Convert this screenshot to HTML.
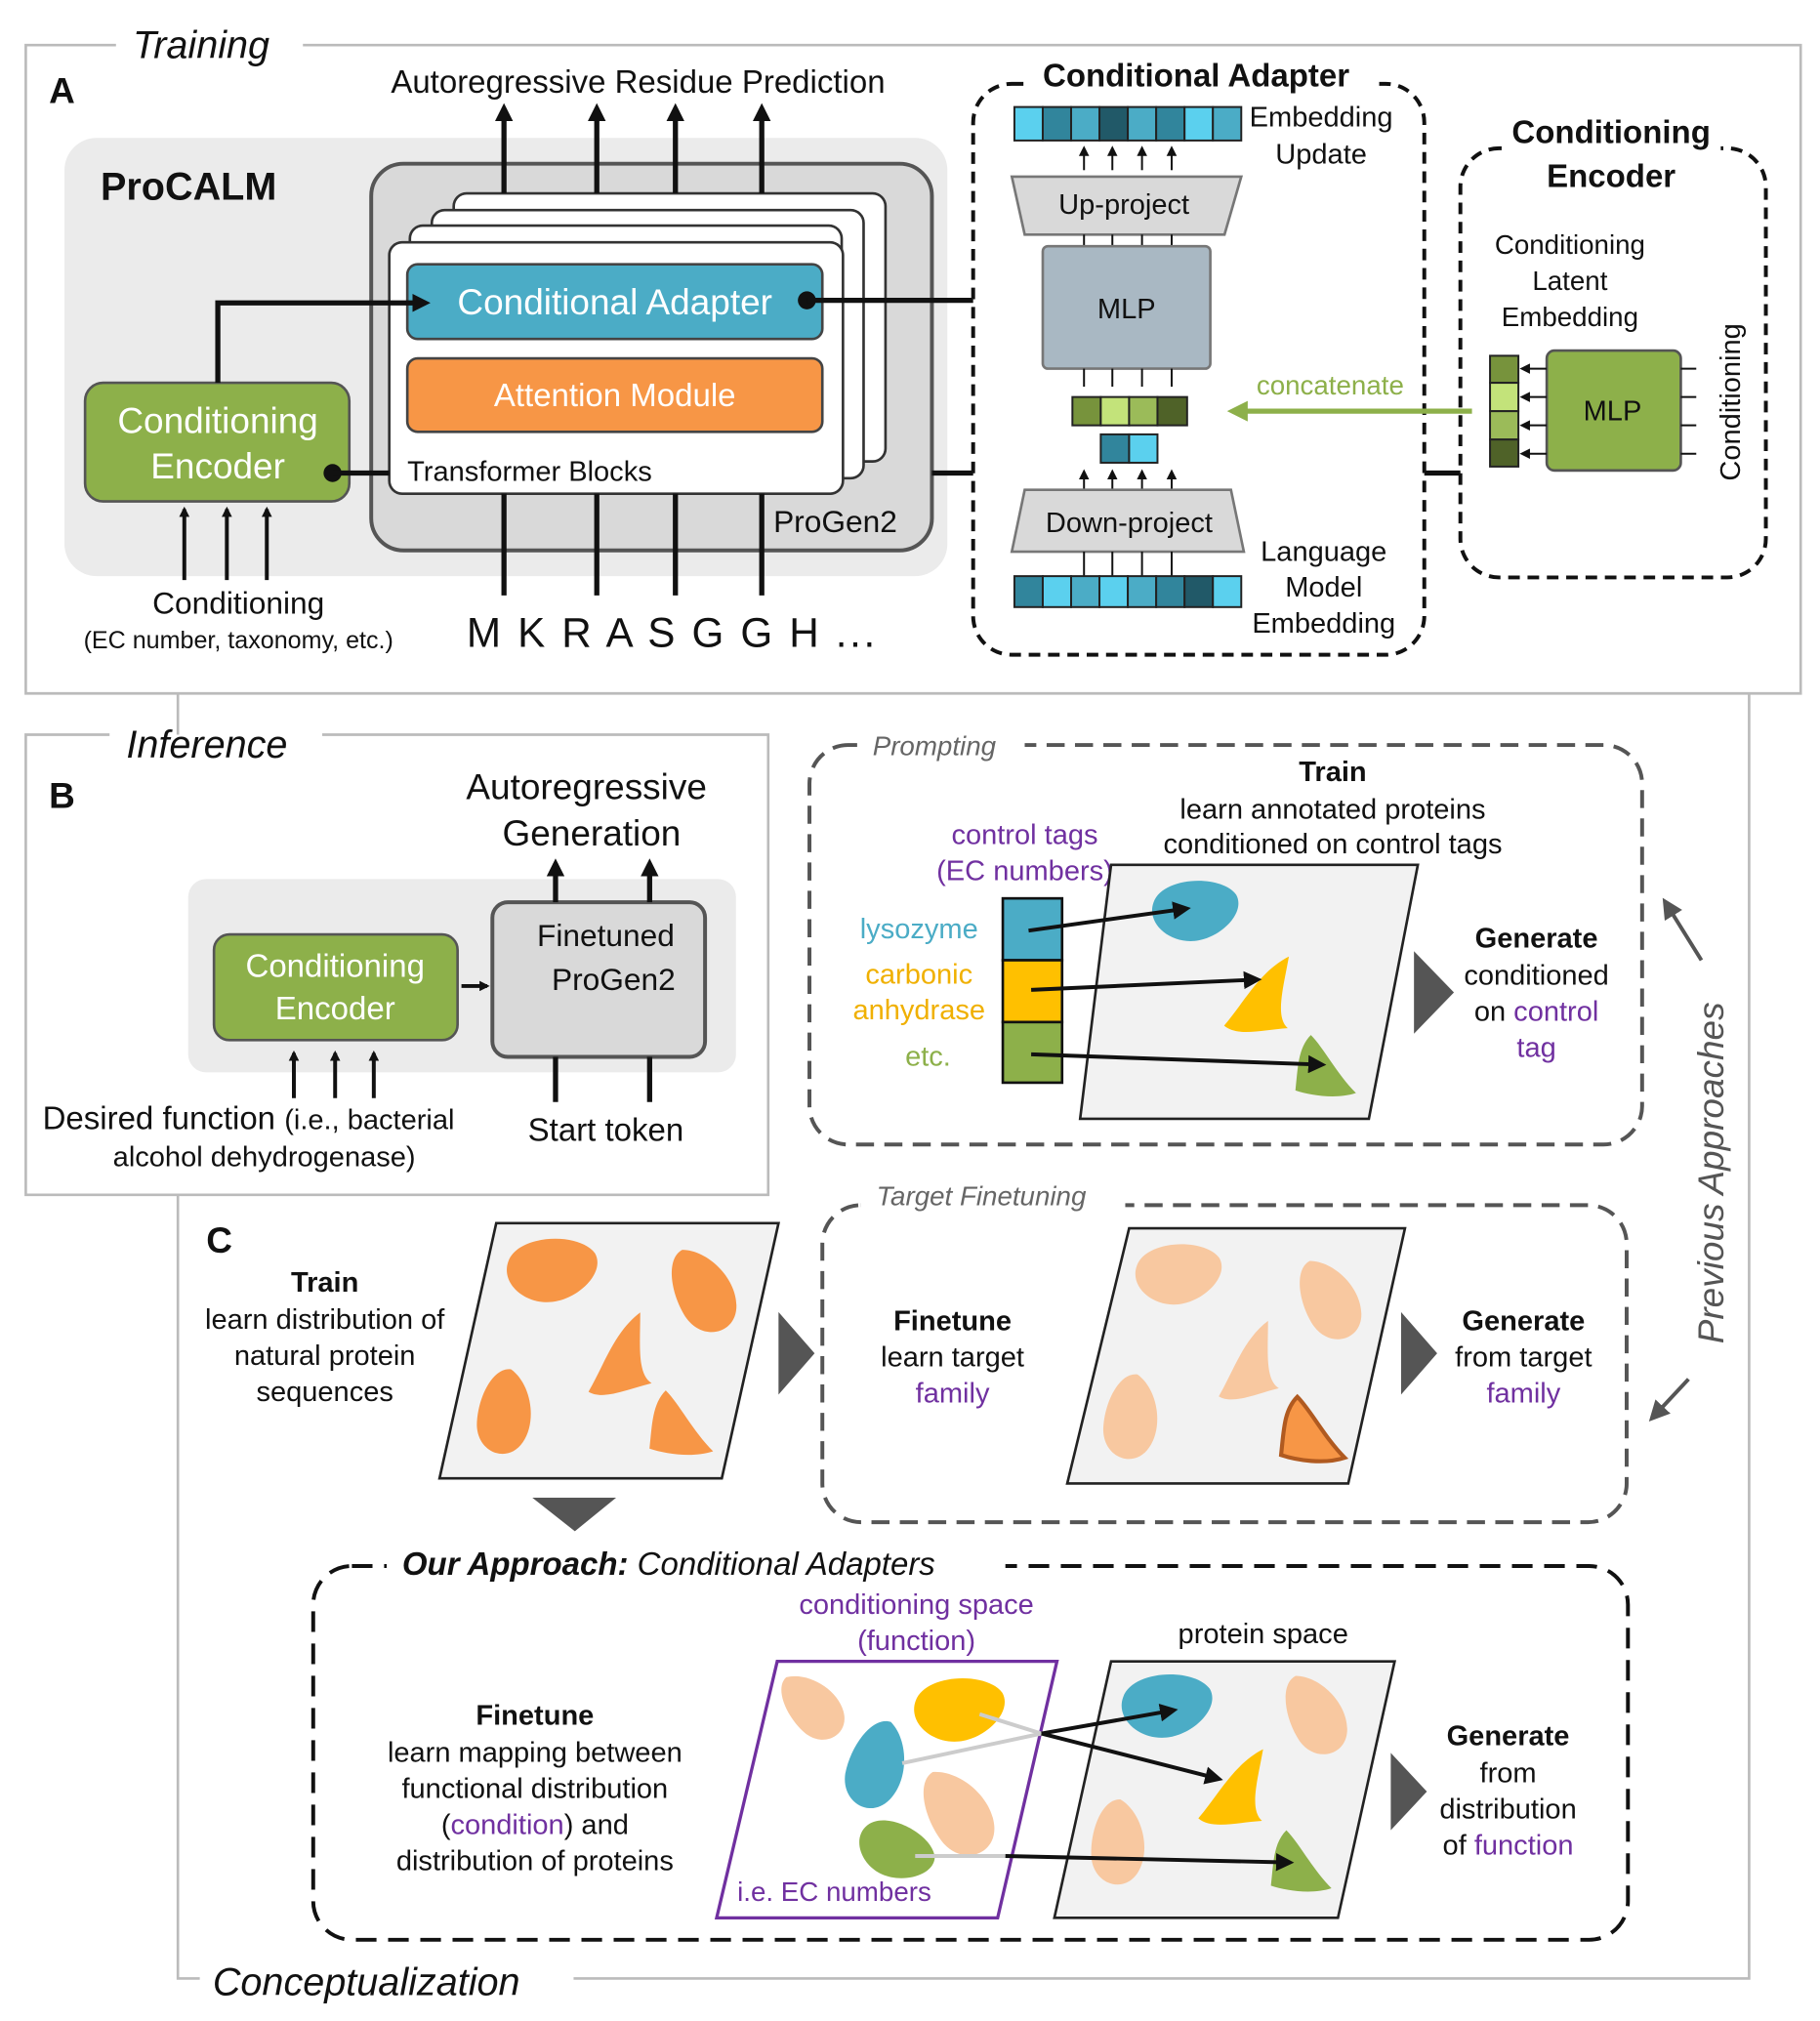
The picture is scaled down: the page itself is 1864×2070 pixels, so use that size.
<!DOCTYPE html>
<html><head><meta charset="utf-8"><style>
html,body{margin:0;padding:0;background:#fff}
svg{display:block}
text{font-family:"Liberation Sans",Arial,sans-serif;fill:#111}
.i{font-style:italic}
.b{font-weight:bold}
.p{fill:#7030a0}
</style></head><body>
<svg width="1864" height="2070" viewBox="0 0 1412 1568" xmlns="http://www.w3.org/2000/svg">
<defs>
<marker id="ah" markerWidth="8" markerHeight="8" refX="6" refY="4" orient="auto" markerUnits="userSpaceOnUse"><path d="M0,0 L8,4 L0,8 Z" fill="#111"/></marker>
<marker id="ab" markerWidth="14" markerHeight="14" refX="10" refY="7" orient="auto" markerUnits="userSpaceOnUse"><path d="M0,0 L14,7 L0,14 Z" fill="#111"/></marker>
<marker id="ag" markerWidth="16" markerHeight="16" refX="12" refY="8" orient="auto" markerUnits="userSpaceOnUse"><path d="M0,0 L16,8 L0,16 Z" fill="#8db04a"/></marker>
<marker id="agr" markerWidth="16" markerHeight="16" refX="12" refY="8" orient="auto" markerUnits="userSpaceOnUse"><path d="M0,0 L16,8 L0,16 Z" fill="#555"/></marker>
<path id="b1" d="M-32,-8 C-25,-28 20,-30 32,-14 C40,0 20,20 0,22 C-20,24 -38,8 -32,-8Z"/>
<path id="b2" d="M-28,20 C-10,5 5,-15 28,-22 C20,0 10,20 18,30 C0,28 -20,30 -28,20Z"/>
<path id="b3" d="M-8,-35 C10,-30 25,-5 20,15 C15,35 -10,35 -18,15 C-25,-5 -22,-32 -8,-35Z"/>
<path id="b4" d="M-10,-25 C0,-15 10,5 25,20 C10,25 -10,22 -22,18 C-20,0 -20,-15 -10,-25Z"/>
</defs>

<!-- Conceptualization frame -->
<path d="M138,538 V1535 H155 M445,1535 H1357 V538" fill="none" stroke="#bbb" stroke-width="2"/>
<text x="165" y="1548" font-size="30" class="i">Conceptualization</text>

<!-- A -->
<path d="M90,35 H20 V538 H1397 V35 H235" fill="none" stroke="#bbb" stroke-width="2"/>
<text x="103" y="45" font-size="30" class="i">Training</text>
<text x="38" y="80" font-size="28" class="b">A</text>
<rect x="50" y="107" width="685" height="340" rx="25" fill="#ebebeb"/>
<text x="78" y="155" font-size="30" class="b">ProCALM</text>
<rect x="288" y="127" width="435" height="300" rx="25" fill="#d9d9d9" stroke="#555" stroke-width="3"/>
<text x="600" y="413" font-size="24">ProGen2</text>
<g stroke="#333" stroke-width="2" fill="#fff">
<rect x="352" y="150" width="335" height="208" rx="10"/>
<rect x="335" y="163" width="335" height="208" rx="10"/>
<rect x="318" y="175" width="335" height="208" rx="10"/>
<rect x="302" y="188" width="352" height="195" rx="10"/>
</g>
<rect x="316" y="205" width="322" height="58" rx="8" fill="#4bacc6" stroke="#444" stroke-width="2"/>
<text x="477" y="244" font-size="28" text-anchor="middle" style="fill:#fff">Conditional Adapter</text>
<rect x="316" y="278" width="322" height="57" rx="8" fill="#f79646" stroke="#444" stroke-width="2"/>
<text x="477" y="315" font-size="25" text-anchor="middle" style="fill:#fff">Attention Module</text>
<text x="316" y="373" font-size="22">Transformer Blocks</text>
<g stroke="#111" stroke-width="4" marker-end="url(#ab)">
<line x1="391" y1="150" x2="391" y2="84"/><line x1="463" y1="150" x2="463" y2="84"/><line x1="524" y1="150" x2="524" y2="84"/><line x1="591" y1="150" x2="591" y2="84"/>
</g>
<text x="495" y="72" font-size="25" text-anchor="middle">Autoregressive Residue Prediction</text>
<g stroke="#111" stroke-width="4">
<line x1="391" y1="383" x2="391" y2="462"/><line x1="463" y1="383" x2="463" y2="462"/><line x1="524" y1="383" x2="524" y2="462"/><line x1="591" y1="383" x2="591" y2="462"/>
</g>
<text x="362" y="502" font-size="32" letter-spacing="2">M K R A S G G H ...</text>
<rect x="66" y="297" width="205" height="92" rx="14" fill="#8db04a" stroke="#555" stroke-width="2"/>
<text x="169" y="336" font-size="28" text-anchor="middle" style="fill:#fff">Conditioning</text>
<text x="169" y="371" font-size="28" text-anchor="middle" style="fill:#fff">Encoder</text>
<circle cx="258" cy="367" r="7" fill="#111"/>
<line x1="258" y1="367" x2="302" y2="367" stroke="#111" stroke-width="4"/>
<polyline points="169,297 169,235 330,235" fill="none" stroke="#111" stroke-width="4" marker-end="url(#ab)"/>
<g stroke="#111" stroke-width="3" marker-end="url(#ah)">
<line x1="143" y1="450" x2="143" y2="395"/><line x1="176" y1="450" x2="176" y2="395"/><line x1="207" y1="450" x2="207" y2="395"/>
</g>
<text x="185" y="476" font-size="24" text-anchor="middle">Conditioning</text>
<text x="185" y="503" font-size="19" text-anchor="middle">(EC number, taxonomy, etc.)</text>
<circle cx="626" cy="233" r="7" fill="#111"/>
<line x1="626" y1="233" x2="755" y2="233" stroke="#111" stroke-width="4"/>
<line x1="723" y1="367" x2="755" y2="367" stroke="#111" stroke-width="4"/>

<!-- Conditional adapter -->
<rect x="755" y="65" width="350" height="443" rx="30" fill="none" stroke="#111" stroke-width="3" stroke-dasharray="9,6"/>
<rect x="795" y="45" width="270" height="30" fill="#fff"/>
<text x="928" y="67" font-size="25" class="b" text-anchor="middle">Conditional Adapter</text>
<g stroke="#222" stroke-width="1.5">
<rect x="787" y="83" width="22" height="26" fill="#5bd0ee"/><rect x="809" y="83" width="22" height="26" fill="#31859c"/><rect x="831" y="83" width="22" height="26" fill="#4bacc6"/><rect x="853" y="83" width="22" height="26" fill="#215968"/><rect x="875" y="83" width="22" height="26" fill="#4bacc6"/><rect x="897" y="83" width="22" height="26" fill="#31859c"/><rect x="919" y="83" width="22" height="26" fill="#5bd0ee"/><rect x="941" y="83" width="22" height="26" fill="#4bacc6"/>
</g>
<text x="1025" y="98" font-size="22" text-anchor="middle">Embedding</text>
<text x="1025" y="127" font-size="22" text-anchor="middle">Update</text>
<g stroke="#111" stroke-width="1.5" marker-end="url(#ah)">
<line x1="841" y1="132" x2="841" y2="115"/><line x1="863" y1="132" x2="863" y2="115"/><line x1="886" y1="132" x2="886" y2="115"/><line x1="909" y1="132" x2="909" y2="115"/>
</g>
<polygon points="785,137 963,137 950,182 795,182" fill="#d9d9d9" stroke="#777" stroke-width="2"/>
<text x="872" y="166" font-size="22" text-anchor="middle">Up-project</text>
<g stroke="#111" stroke-width="1.5">
<line x1="841" y1="182" x2="841" y2="191"/><line x1="863" y1="182" x2="863" y2="191"/><line x1="886" y1="182" x2="886" y2="191"/><line x1="909" y1="182" x2="909" y2="191"/>
</g>
<rect x="809" y="191" width="130" height="95" rx="4" fill="#a9b8c3" stroke="#777" stroke-width="2"/>
<text x="874" y="247" font-size="22" text-anchor="middle">MLP</text>
<g stroke="#111" stroke-width="1.5">
<line x1="841" y1="286" x2="841" y2="300"/><line x1="863" y1="286" x2="863" y2="300"/><line x1="886" y1="286" x2="886" y2="300"/><line x1="909" y1="286" x2="909" y2="300"/>
</g>
<g stroke="#222" stroke-width="1.5">
<rect x="832" y="308" width="22" height="22" fill="#77933c"/><rect x="854" y="308" width="22" height="22" fill="#c3e37a"/><rect x="876" y="308" width="22" height="22" fill="#9bbb59"/><rect x="898" y="308" width="23" height="22" fill="#4f6228"/>
<rect x="854" y="337" width="22" height="22" fill="#31859c"/><rect x="876" y="337" width="22" height="22" fill="#5bd0ee"/>
</g>
<g stroke="#111" stroke-width="1.5" marker-end="url(#ah)">
<line x1="841" y1="380" x2="841" y2="366"/><line x1="863" y1="380" x2="863" y2="366"/><line x1="886" y1="380" x2="886" y2="366"/><line x1="909" y1="380" x2="909" y2="366"/>
</g>
<polygon points="795,380 955,380 965,428 785,428" fill="#d9d9d9" stroke="#777" stroke-width="2"/>
<text x="876" y="413" font-size="22" text-anchor="middle">Down-project</text>
<g stroke="#111" stroke-width="1.5">
<line x1="841" y1="428" x2="841" y2="447"/><line x1="863" y1="428" x2="863" y2="447"/><line x1="886" y1="428" x2="886" y2="447"/><line x1="909" y1="428" x2="909" y2="447"/>
</g>
<g stroke="#222" stroke-width="1.5">
<rect x="787" y="447" width="22" height="24" fill="#31859c"/><rect x="809" y="447" width="22" height="24" fill="#5bd0ee"/><rect x="831" y="447" width="22" height="24" fill="#4bacc6"/><rect x="853" y="447" width="22" height="24" fill="#5bd0ee"/><rect x="875" y="447" width="22" height="24" fill="#4bacc6"/><rect x="897" y="447" width="22" height="24" fill="#31859c"/><rect x="919" y="447" width="22" height="24" fill="#215968"/><rect x="941" y="447" width="22" height="24" fill="#5bd0ee"/>
</g>
<text x="1027" y="435" font-size="22" text-anchor="middle">Language</text>
<text x="1027" y="463" font-size="22" text-anchor="middle">Model</text>
<text x="1027" y="491" font-size="22" text-anchor="middle">Embedding</text>
<text x="1032" y="306" font-size="21" text-anchor="middle" style="fill:#8db04a">concatenate</text>
<line x1="1142" y1="319" x2="956" y2="319" stroke="#8db04a" stroke-width="4" marker-end="url(#ag)"/>
<line x1="1105" y1="367" x2="1133" y2="367" stroke="#111" stroke-width="4"/>

<!-- Conditioning encoder -->
<rect x="1133" y="115" width="237" height="333" rx="30" fill="none" stroke="#111" stroke-width="3" stroke-dasharray="9,6"/>
<rect x="1165" y="88" width="170" height="64" fill="#fff"/>
<text x="1250" y="111" font-size="25" class="b" text-anchor="middle">Conditioning</text>
<text x="1250" y="145" font-size="25" class="b" text-anchor="middle">Encoder</text>
<text x="1218" y="197" font-size="21" text-anchor="middle">Conditioning</text>
<text x="1218" y="225" font-size="21" text-anchor="middle">Latent</text>
<text x="1218" y="253" font-size="21" text-anchor="middle">Embedding</text>
<rect x="1200" y="272" width="104" height="93" rx="6" fill="#8db04a" stroke="#555" stroke-width="2"/>
<text x="1251" y="326" font-size="22" text-anchor="middle">MLP</text>
<g stroke="#222" stroke-width="1.5">
<rect x="1156" y="276" width="22" height="21" fill="#77933c"/><rect x="1156" y="297" width="22" height="22" fill="#c3e37a"/><rect x="1156" y="319" width="22" height="22" fill="#9bbb59"/><rect x="1156" y="341" width="22" height="21" fill="#4f6228"/>
</g>
<g stroke="#111" stroke-width="1.5" marker-end="url(#ah)">
<line x1="1200" y1="286" x2="1181" y2="286"/><line x1="1200" y1="308" x2="1181" y2="308"/><line x1="1200" y1="330" x2="1181" y2="330"/><line x1="1200" y1="352" x2="1181" y2="352"/>
</g>
<g stroke="#111" stroke-width="1.5">
<line x1="1304" y1="286" x2="1316" y2="286"/><line x1="1304" y1="308" x2="1316" y2="308"/><line x1="1304" y1="330" x2="1316" y2="330"/><line x1="1304" y1="352" x2="1316" y2="352"/>
</g>
<text x="1350" y="312" font-size="22" text-anchor="middle" transform="rotate(-90 1350 312)">Conditioning</text>

<!-- B -->
<rect x="20" y="570" width="576" height="357" fill="#fff"/>
<path d="M85,570 H20 V927 H596 V570 H250" fill="none" stroke="#bbb" stroke-width="2"/>
<text x="98" y="588" font-size="30" class="i">Inference</text>
<text x="38" y="627" font-size="28" class="b">B</text>
<rect x="146" y="682" width="425" height="150" rx="14" fill="#ebebeb"/>
<rect x="166" y="725" width="189" height="82" rx="12" fill="#8db04a" stroke="#555" stroke-width="2"/>
<text x="260" y="758" font-size="25" text-anchor="middle" style="fill:#fff">Conditioning</text>
<text x="260" y="791" font-size="25" text-anchor="middle" style="fill:#fff">Encoder</text>
<line x1="358" y1="765" x2="378" y2="765" stroke="#111" stroke-width="3" marker-end="url(#ah)"/>
<rect x="382" y="700" width="165" height="120" rx="12" fill="#d9d9d9" stroke="#555" stroke-width="3"/>
<text x="470" y="734" font-size="24" text-anchor="middle">Finetuned</text>
<text x="476" y="768" font-size="24" text-anchor="middle">ProGen2</text>
<g stroke="#111" stroke-width="4" marker-end="url(#ab)">
<line x1="431" y1="700" x2="431" y2="670"/><line x1="504" y1="700" x2="504" y2="670"/>
</g>
<text x="455" y="620" font-size="28" text-anchor="middle">Autoregressive</text>
<text x="459" y="656" font-size="28" text-anchor="middle">Generation</text>
<g stroke="#111" stroke-width="4"><line x1="431" y1="820" x2="431" y2="855"/><line x1="504" y1="820" x2="504" y2="855"/></g>
<text x="470" y="885" font-size="25" text-anchor="middle">Start token</text>
<g stroke="#111" stroke-width="3" marker-end="url(#ah)">
<line x1="228" y1="852" x2="228" y2="817"/><line x1="260" y1="852" x2="260" y2="817"/><line x1="290" y1="852" x2="290" y2="817"/>
</g>
<text x="33" y="876" font-size="25">Desired function <tspan font-size="22">(i.e., bacterial</tspan></text>
<text x="205" y="905" font-size="22" text-anchor="middle">alcohol dehydrogenase)</text>

<!-- Prompting -->
<rect x="628" y="578" width="646" height="310" rx="30" fill="none" stroke="#555" stroke-width="3" stroke-dasharray="14,8"/>
<rect x="665" y="565" width="130" height="28" fill="#fff"/>
<text x="677" y="586" font-size="21" class="i" style="fill:#666">Prompting</text>
<text x="1034" y="606" font-size="22" class="b" text-anchor="middle">Train</text>
<text x="1034" y="635" font-size="22" text-anchor="middle">learn annotated proteins</text>
<text x="1034" y="662" font-size="22" text-anchor="middle">conditioned on control tags</text>
<text x="795" y="655" font-size="22" text-anchor="middle" class="p">control tags</text>
<text x="795" y="683" font-size="22" text-anchor="middle" class="p">(EC numbers)</text>
<polygon points="862,671 1100,671 1062,868 838,868" fill="#f2f2f2" stroke="#222" stroke-width="2"/>
<rect x="778" y="697" width="46" height="48" fill="#4bacc6" stroke="#111" stroke-width="2"/>
<rect x="778" y="745" width="46" height="48" fill="#ffc000" stroke="#111" stroke-width="2"/>
<rect x="778" y="793" width="46" height="47" fill="#8db04a" stroke="#111" stroke-width="2"/>
<text x="713" y="728" font-size="22" text-anchor="middle" style="fill:#4bacc6">lysozyme</text>
<text x="713" y="763" font-size="22" text-anchor="middle" style="fill:#f0b000">carbonic</text>
<text x="713" y="791" font-size="22" text-anchor="middle" style="fill:#f0b000">anhydrase</text>
<text x="720" y="827" font-size="22" text-anchor="middle" style="fill:#8db04a">etc.</text>
<use href="#b1" transform="translate(927,708) scale(1)" fill="#4bacc6"/>
<use href="#b2" transform="translate(975,770) rotate(-10) scale(1.05)" fill="#ffc000"/>
<use href="#b4" transform="translate(1027,828) scale(1)" fill="#8db04a"/>
<g stroke="#111" stroke-width="3" marker-end="url(#ab)">
<line x1="798" y1="722" x2="920" y2="705"/><line x1="800" y1="768" x2="975" y2="760"/><line x1="800" y1="818" x2="1025" y2="826"/>
</g>
<polygon points="1097,738 1097,802 1128,770" fill="#555"/>
<text x="1192" y="735" font-size="22" class="b" text-anchor="middle">Generate</text>
<text x="1192" y="764" font-size="22" text-anchor="middle">conditioned</text>
<text x="1192" y="792" font-size="22" text-anchor="middle">on <tspan class="p">control</tspan></text>
<text x="1192" y="820" font-size="22" text-anchor="middle" class="p">tag</text>

<!-- Previous approaches -->
<text x="1337" y="910" font-size="28" class="i" text-anchor="middle" style="fill:#555" transform="rotate(-90 1337 910)">Previous Approaches</text>
<line x1="1320" y1="745" x2="1292" y2="700" stroke="#555" stroke-width="3" marker-end="url(#agr)"/>
<line x1="1310" y1="1070" x2="1282" y2="1100" stroke="#555" stroke-width="3" marker-end="url(#agr)"/>

<!-- C -->
<text x="160" y="972" font-size="28" class="b">C</text>
<text x="252" y="1002" font-size="22" class="b" text-anchor="middle">Train</text>
<text x="252" y="1031" font-size="22" text-anchor="middle">learn distribution of</text>
<text x="252" y="1059" font-size="22" text-anchor="middle">natural protein</text>
<text x="252" y="1087" font-size="22" text-anchor="middle">sequences</text>
<polygon points="385,949 604,949 560,1147 341,1147" fill="#f2f2f2" stroke="#222" stroke-width="2"/>
<g fill="#f79646">
<use href="#b1" transform="translate(428,987) scale(1.05)"/>
<use href="#b3" transform="translate(547,1003) rotate(-15) scale(1.05)"/>
<use href="#b2" transform="translate(477,1050) rotate(-20) scale(1.05)"/>
<use href="#b3" transform="translate(392,1098) rotate(20) scale(1)"/>
<use href="#b4" transform="translate(527,1105) scale(1.05)"/>
</g>
<polygon points="604,1018 604,1082 632,1050" fill="#555"/>
<polygon points="413,1162 478,1162 446,1188" fill="#555"/>

<rect x="638" y="935" width="624" height="246" rx="30" fill="none" stroke="#555" stroke-width="3" stroke-dasharray="14,8"/>
<rect x="668" y="920" width="205" height="28" fill="#fff"/>
<text x="680" y="935" font-size="21" class="i" style="fill:#666">Target Finetuning</text>
<text x="739" y="1032" font-size="22" class="b" text-anchor="middle">Finetune</text>
<text x="739" y="1060" font-size="22" text-anchor="middle">learn target</text>
<text x="739" y="1088" font-size="22" text-anchor="middle" class="p">family</text>
<polygon points="876,953 1090,953 1046,1151 828,1151" fill="#f2f2f2" stroke="#222" stroke-width="2"/>
<g fill="#f8c8a0">
<use href="#b1" transform="translate(914,990) scale(1)"/>
<use href="#b3" transform="translate(1033,1010) rotate(-15) scale(1)"/>
<use href="#b2" transform="translate(965,1055) rotate(-20) scale(1)"/>
<use href="#b3" transform="translate(878,1102) rotate(20) scale(1)"/>
</g>
<use href="#b4" transform="translate(1017,1110) scale(1.05)" fill="#f79646" stroke="#b05a20" stroke-width="3"/>
<polygon points="1087,1018 1087,1082 1115,1050" fill="#555"/>
<text x="1182" y="1032" font-size="22" class="b" text-anchor="middle">Generate</text>
<text x="1182" y="1060" font-size="22" text-anchor="middle">from target</text>
<text x="1182" y="1088" font-size="22" text-anchor="middle" class="p">family</text>

<!-- Our approach -->
<rect x="243" y="1215" width="1020" height="290" rx="30" fill="none" stroke="#111" stroke-width="3" stroke-dasharray="16,9"/>
<rect x="300" y="1195" width="480" height="34" fill="#fff"/>
<text x="312" y="1222" font-size="25" class="i"><tspan class="b">Our Approach:</tspan> Conditional Adapters</text>
<text x="415" y="1338" font-size="22" class="b" text-anchor="middle">Finetune</text>
<text x="415" y="1367" font-size="22" text-anchor="middle">learn mapping between</text>
<text x="415" y="1395" font-size="22" text-anchor="middle">functional distribution</text>
<text x="415" y="1423" font-size="22" text-anchor="middle">(<tspan class="p">condition</tspan>) and</text>
<text x="415" y="1451" font-size="22" text-anchor="middle">distribution of proteins</text>
<text x="711" y="1252" font-size="22" text-anchor="middle" class="p">conditioning space</text>
<text x="711" y="1280" font-size="22" text-anchor="middle" class="p">(function)</text>
<polygon points="603,1289 820,1289 774,1488 556,1488" fill="#fff" stroke="#7030a0" stroke-width="2.5"/>
<use href="#b3" transform="translate(632,1325) rotate(-30) scale(0.9)" fill="#f8c8a0"/>
<use href="#b1" transform="translate(744,1328) scale(1.05)" fill="#ffc000"/>
<use href="#b3" transform="translate(680,1372) rotate(30) scale(1.05)" fill="#4bacc6"/>
<use href="#b3" transform="translate(745,1408) rotate(-20) scale(1.1)" fill="#f8c8a0"/>
<use href="#b1" transform="translate(694,1437) rotate(30) scale(0.9)" fill="#8db04a"/>
<g stroke="#ccc" stroke-width="3"><line x1="700" y1="1368" x2="808" y2="1345"/><line x1="760" y1="1330" x2="808" y2="1345"/><line x1="710" y1="1440" x2="780" y2="1440"/></g>
<text x="552" y="1475" font-size="21" class="p" dx="20">i.e. EC numbers</text>
<text x="980" y="1275" font-size="22" text-anchor="middle">protein space</text>
<polygon points="862,1289 1082,1289 1038,1488 818,1488" fill="#f2f2f2" stroke="#222" stroke-width="2"/>
<use href="#b1" transform="translate(905,1325) scale(1.05)" fill="#4bacc6"/>
<use href="#b2" transform="translate(955,1385) rotate(-10) scale(1.05)" fill="#ffc000"/>
<use href="#b3" transform="translate(1022,1332) rotate(-15) scale(1)" fill="#f8c8a0"/>
<use href="#b3" transform="translate(868,1432) rotate(15) scale(1)" fill="#f8c8a0"/>
<use href="#b4" transform="translate(1008,1445) scale(1)" fill="#8db04a"/>
<g stroke="#111" stroke-width="3" marker-end="url(#ab)">
<line x1="808" y1="1345" x2="910" y2="1327"/><line x1="808" y1="1345" x2="945" y2="1380"/><line x1="780" y1="1440" x2="1000" y2="1445"/>
</g>
<polygon points="1079,1360 1079,1420 1107,1390" fill="#555"/>
<text x="1170" y="1354" font-size="22" class="b" text-anchor="middle">Generate</text>
<text x="1170" y="1383" font-size="22" text-anchor="middle">from</text>
<text x="1170" y="1411" font-size="22" text-anchor="middle">distribution</text>
<text x="1170" y="1439" font-size="22" text-anchor="middle">of <tspan class="p">function</tspan></text>
</svg>
</body></html>
